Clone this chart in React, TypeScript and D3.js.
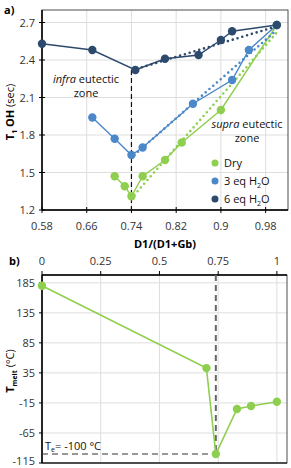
import * as React from 'react';
import * as d3 from 'd3';

// panel a) T1 OH vs composition
const topXTicks = [0.58, 0.66, 0.74, 0.82, 0.9, 0.98];
const topYTicks = [1.2, 1.5, 1.8, 2.1, 2.4, 2.7];
const dryX = [0.71, 0.728, 0.74, 0.76, 0.8, 0.83, 0.9, 1.0];
const dryY = [1.47, 1.39, 1.31, 1.47, 1.6, 1.74, 2.0, 2.68];
const eq3X = [0.67, 0.71, 0.74, 0.76, 0.85, 0.92, 0.95, 1.0];
const eq3Y = [1.94, 1.77, 1.64, 1.7, 2.05, 2.24, 2.48, 2.68];
const eq6X = [0.58, 0.67, 0.747, 0.8, 0.86, 0.9, 0.92, 1.0];
const eq6Y = [2.53, 2.48, 2.32, 2.41, 2.44, 2.56, 2.63, 2.68];
const dryTrendX = [0.745, 1.0];
const dryTrendY = [1.32, 2.62];
const eq3TrendX = [0.745, 1.0];
const eq3TrendY = [1.64, 2.64];
const eq6TrendX = [0.75, 1.0];
const eq6TrendY = [2.33, 2.67];
const seriesNames = ['Dry', '3 eq H', '6 eq H'];
const eutecticX = 0.74;

// panel b) melting temperature
const botXTicks = [0, 0.25, 0.5, 0.75, 1];
const botXLabels = ['0', '0.25', '0.5', '0.75', '1'];
const botYTicks = [185, 135, 85, 35, -15, -65, -115];
const meltX = [0, 0.7, 0.74, 0.83, 0.89, 1.0];
const meltY = [180, 43, -100, -25, -20, -13];
const eutecticT = -100;

const GREEN = '#8fcf4f';
const BLUE = '#4b88c9';
const DARK = '#2d4a6d';
const GRID = '#dedede';
const FONT = '"Open Sans", "Liberation Sans", sans-serif';

const zip = (xs: number[], ys: number[]) => xs.map((x, i) => [x, ys[i]] as [number, number]);

export default function App() {
    const a = { left: 42, right: 288, top: 10, bottom: 210 };
    const ax = d3.scaleLinear().domain([0.58, 1.02]).range([a.left, a.right]);
    const ay = d3.scaleLinear().domain([1.2, 2.8]).range([a.bottom, a.top]);
    const aLine = d3.line<[number, number]>().x(d => ax(d[0])).y(d => ay(d[1]));

    const b = { left: 42, right: 287, top: 275, bottom: 463 };
    const bx = d3.scaleLinear().domain([0, 1.043]).range([b.left, b.right]);
    const by = d3.scaleLinear().domain([-115, 198]).range([b.bottom, b.top]);
    const bLine = d3.line<[number, number]>().x(d => bx(d[0])).y(d => by(d[1]));

    const series = [
        { pts: zip(dryX, dryY), trend: zip(dryTrendX, dryTrendY), color: GREEN },
        { pts: zip(eq3X, eq3Y), trend: zip(eq3TrendX, eq3TrendY), color: BLUE },
        { pts: zip(eq6X, eq6Y), trend: zip(eq6TrendX, eq6TrendY), color: DARK },
    ];
    const melt = zip(meltX, meltY);
    const eq6Min = d3.min(eq6Y) || 0;

    return (
        <svg width={291} height={468} style={{ position: 'absolute', left: 0, top: 0 }}
            fontFamily={FONT}>
            <rect width={291} height={468} fill="#fff" />

            {/* ---- panel a ---- */}
            <text x={4} y={14} fontSize={11} fontWeight="bold">a)</text>
            {topYTicks.map(t => (
                <line key={'gy' + t} x1={a.left} x2={a.right} y1={ay(t)} y2={ay(t)} stroke={GRID} />
            ))}
            {topXTicks.map(t => (
                <line key={'gx' + t} x1={ax(t)} x2={ax(t)} y1={a.top} y2={a.bottom} stroke={GRID} />
            ))}
            <rect x={a.left} y={a.top} width={a.right - a.left} height={a.bottom - a.top}
                fill="none" stroke="#222" strokeWidth={0.8} />
            <line x1={a.left} x2={a.left} y1={a.top} y2={a.bottom} stroke="#000" strokeWidth={1.5} />
            <line x1={a.left} x2={a.right} y1={a.bottom} y2={a.bottom} stroke="#000" strokeWidth={1.5} />
            {topYTicks.map(t => (
                <g key={'ty' + t}>
                    <line x1={a.left - 3} x2={a.left + 3} y1={ay(t)} y2={ay(t)} stroke="#000" />
                    <text x={a.left - 7} y={ay(t) + 4} fontSize={11} textAnchor="end" fill="#333">{t.toFixed(1)}</text>
                </g>
            ))}
            {topXTicks.map(t => (
                <g key={'tx' + t}>
                    <line x1={ax(t)} x2={ax(t)} y1={a.bottom - 3} y2={a.bottom + 3} stroke="#000" />
                    <text x={ax(t)} y={a.bottom + 20} fontSize={11} textAnchor="middle" fill="#333">{String(t)}</text>
                </g>
            ))}
            <text x={165} y={248} fontSize={11} fontWeight="bold" textAnchor="middle">D1/(D1+Gb)</text>
            <text transform={`translate(14,${(a.top + a.bottom) / 2 + 2}) rotate(-90)`} fontSize={11} textAnchor="middle">
                <tspan fontWeight="bold">T</tspan>
                <tspan fontWeight="bold" fontSize={7} dy={3}>1</tspan>
                <tspan fontWeight="bold" dy={-3}> OH</tspan>
                <tspan> (sec)</tspan>
            </text>

            <line x1={ax(eutecticX)} x2={ax(eutecticX)} y1={ay(eq6Min)} y2={a.bottom}
                stroke="#111" strokeWidth={1.2} strokeDasharray="5,3" />

            {series.map((s, i) => (
                <g key={'s' + i}>
                    <path d={aLine(s.trend) || ''} fill="none" stroke={s.color} strokeWidth={2.6}
                        strokeDasharray="0,5" strokeLinecap="round" />
                    <path d={aLine(s.pts) || ''} fill="none" stroke={s.color} strokeWidth={1.4} />
                    {s.pts.map((p, j) => (
                        <circle key={j} cx={ax(p[0])} cy={ay(p[1])} r={4.2} fill={s.color} />
                    ))}
                </g>
            ))}

            <text x={86} y={83} fontSize={11} textAnchor="middle" fill="#111">
                <tspan fontStyle="italic">infra</tspan> eutectic
            </text>
            <text x={86} y={97} fontSize={11} textAnchor="middle" fill="#111">zone</text>
            <text x={247} y={128} fontSize={11} textAnchor="middle" fill="#111">
                <tspan fontStyle="italic">supra</tspan> eutectic
            </text>
            <text x={247} y={142} fontSize={11} textAnchor="middle" fill="#111">zone</text>

            {series.map((s, i) => (
                <g key={'lg' + i} transform={`translate(215,${163 + i * 18})`}>
                    <circle r={3.5} fill={s.color} />
                    <text x={9} y={4} fontSize={11} fill="#111">
                        {seriesNames[i]}
                        {i > 0 && <tspan fontSize={7} dy={3}>2</tspan>}
                        {i > 0 && <tspan dy={-3}>O</tspan>}
                    </text>
                </g>
            ))}

            {/* ---- panel b ---- */}
            <text x={9} y={265} fontSize={11} fontWeight="bold">b)</text>
            {botYTicks.map(t => (
                <line key={'bgy' + t} x1={b.left} x2={b.right} y1={by(t)} y2={by(t)} stroke={GRID} />
            ))}
            {botXTicks.map(t => (
                <line key={'bgx' + t} x1={bx(t)} x2={bx(t)} y1={b.top} y2={b.bottom} stroke={GRID} />
            ))}
            <rect x={b.left} y={b.top} width={b.right - b.left} height={b.bottom - b.top}
                fill="none" stroke="#222" strokeWidth={0.8} />
            <line x1={b.left} x2={b.left} y1={b.top} y2={b.bottom} stroke="#000" strokeWidth={1.5} />
            <line x1={b.left} x2={b.right} y1={b.top} y2={b.top} stroke="#000" strokeWidth={1.5} />
            <line x1={b.left} x2={b.right} y1={b.bottom} y2={b.bottom} stroke="#000" strokeWidth={1.2} />
            {botXTicks.map((t, i) => (
                <g key={'bx' + t}>
                    <line x1={bx(t)} x2={bx(t)} y1={b.top - 4} y2={b.top} stroke="#000" />
                    <text x={bx(t)} y={b.top - 10} fontSize={11} textAnchor="middle" fill="#333">{botXLabels[i]}</text>
                </g>
            ))}
            {botYTicks.map(t => (
                <g key={'by' + t}>
                    <line x1={b.left - 3} x2={b.left} y1={by(t)} y2={by(t)} stroke="#000" />
                    <text x={b.left - 7} y={Math.min(by(t) + 4, 465)} fontSize={11} textAnchor="end" fill="#333">{String(t)}</text>
                </g>
            ))}
            <text transform={`translate(14,${(b.top + b.bottom) / 2 + 2}) rotate(-90)`} fontSize={11} textAnchor="middle">
                <tspan fontWeight="bold">T</tspan>
                <tspan fontWeight="bold" fontSize={7} dy={3}>melt</tspan>
                <tspan dy={-3}> (°C)</tspan>
            </text>

            <line x1={b.left} x2={bx(eutecticX)} y1={by(eutecticT)} y2={by(eutecticT)}
                stroke="#333" strokeWidth={1.2} strokeDasharray="6,4" />
            <line x1={bx(eutecticX)} x2={bx(eutecticX)} y1={b.top} y2={by(eutecticT)}
                stroke="#666" strokeWidth={2} strokeDasharray="6,4" />
            <text x={45} y={by(eutecticT) - 4} fontSize={11} fill="#111">
                T<tspan fontSize={7} dy={2}>e</tspan><tspan dy={-2}>= -100 °C</tspan>
            </text>

            <path d={bLine(melt) || ''} fill="none" stroke={GREEN} strokeWidth={1.6} />
            {melt.map((p, j) => (
                <circle key={'m' + j} cx={bx(p[0])} cy={by(p[1])} r={4.2} fill={GREEN} />
            ))}
        </svg>
    );
}
